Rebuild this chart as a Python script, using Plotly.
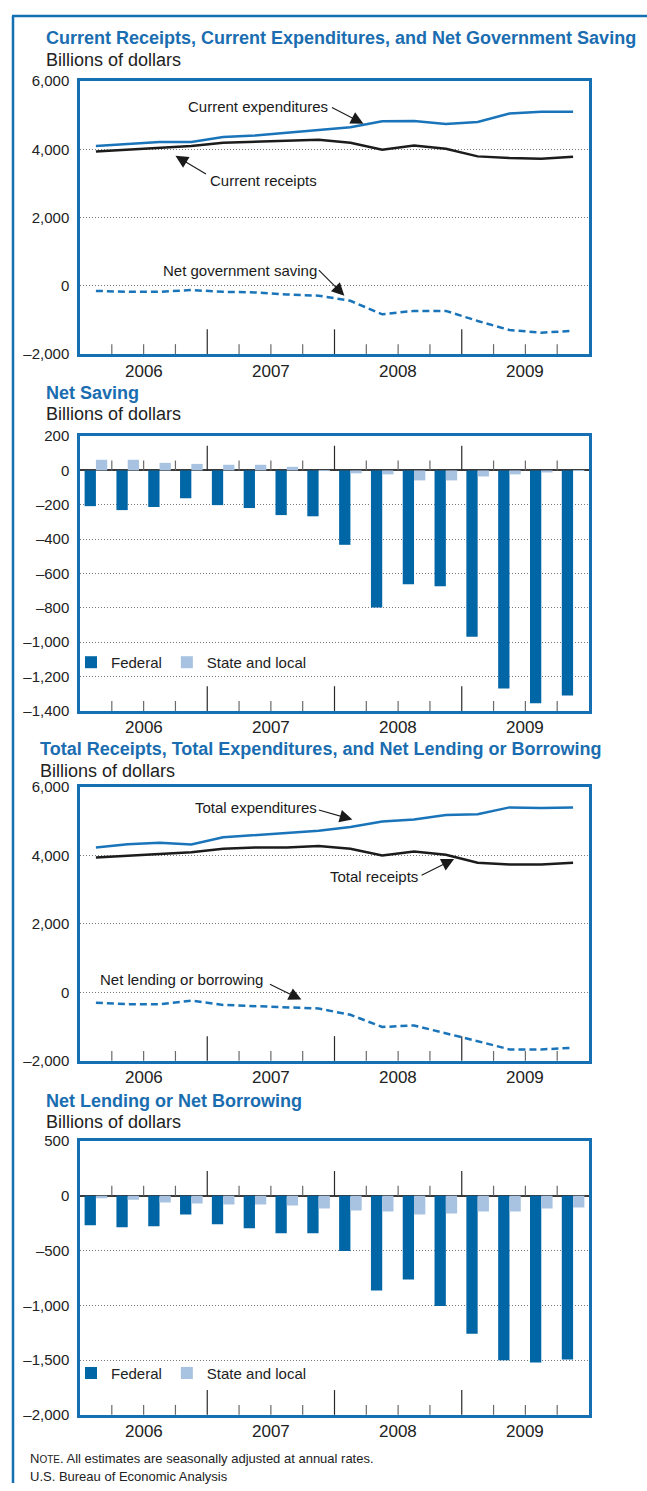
import plotly.graph_objects as go

# ---- data (billions of dollars, seasonally adjusted annual rates) ----
quarters = ["2006Q1", "2006Q2", "2006Q3", "2006Q4",
            "2007Q1", "2007Q2", "2007Q3", "2007Q4",
            "2008Q1", "2008Q2", "2008Q3", "2008Q4",
            "2009Q1", "2009Q2", "2009Q3", "2009Q4"]
years = ["2006", "2007", "2008", "2009"]

cur_expenditures = [4100, 4165, 4215, 4215, 4360, 4410, 4490, 4550,
                    4650, 4825, 4830, 4745, 4805, 5050, 5100, 5100]
cur_receipts = [3940, 4000, 4050, 4100, 4195, 4225, 4245, 4285,
                4195, 3990, 4110, 4020, 3795, 3745, 3725, 3785]
net_gov_saving = [-150, -175, -175, -125, -175, -195, -255, -290,
                  -440, -835, -735, -735, -1030, -1295, -1375, -1320]

saving_federal = [-208, -231, -213, -162, -202, -219, -260, -267,
                  -433, -798, -663, -675, -969, -1269, -1356, -1310]
saving_state_local = [62, 62, 44, 38, 33, 33, 21, -3,
                      -17, -23, -58, -58, -35, -23, -12, -3]

tot_expenditures = [4230, 4325, 4375, 4320, 4530, 4590, 4655, 4725,
                    4830, 4995, 5050, 5185, 5205, 5405, 5390, 5400]
tot_receipts = [3940, 3990, 4040, 4095, 4195, 4230, 4230, 4280,
                4195, 4000, 4115, 4020, 3790, 3740, 3740, 3790]
net_lending = [-300, -345, -345, -240, -365, -395, -445, -470,
               -655, -1010, -965, -1185, -1425, -1665, -1665, -1620]

lending_federal = [-270, -288, -279, -171, -261, -297, -342, -342,
                   -504, -865, -766, -1006, -1261, -1502, -1523, -1495]
lending_state_local = [-24, -36, -63, -72, -81, -81, -90, -117,
                       -135, -144, -171, -162, -144, -144, -117, -108]

# ---- styling ----
W, H = 647, 1491
FONT = "Liberation Sans, Arial, Helvetica, sans-serif"
FRAME = "#1470b3"
TITLE = "#1a6db0"
LINE_BLUE = "#1a74b9"
FED = "#0066a6"
STATE = "#a7c3e1"

def px(x):
    return x / W

def py(y):
    return 1 - y / H

idx = list(range(len(quarters)))
boxes = [(73, 349), (432, 710), (787, 1064), (1145, 1422)]
yranges = [(-2000, 6000), (-1400, 200), (-2000, 6000), (-2000, 500)]
yticks = [[-2000, 0, 2000, 4000, 6000],
          list(range(-1400, 201, 200)),
          [-2000, 0, 2000, 4000, 6000],
          [-2000, -1500, -1000, -500, 0, 500]]

def fmt(v):
    s = f"{abs(v):,}"
    return ("\u2013" + s) if v < 0 else s

fig = go.Figure()

# panel 1: lines
fig.add_trace(go.Scatter(x=idx, y=cur_expenditures, mode="lines", line=dict(color=LINE_BLUE, width=2.5),
                         xaxis="x", yaxis="y", showlegend=False))
fig.add_trace(go.Scatter(x=idx, y=cur_receipts, mode="lines", line=dict(color="#1c1c1c", width=2.5),
                         xaxis="x", yaxis="y", showlegend=False))
fig.add_trace(go.Scatter(x=idx, y=net_gov_saving, mode="lines", line=dict(color=LINE_BLUE, width=2.5, dash="7px,4px"),
                         xaxis="x", yaxis="y", showlegend=False))

# panel 2: bars
fig.add_trace(go.Bar(x=idx, y=saving_federal, name="Federal", marker_color=FED, marker_line_width=0,
                     xaxis="x2", yaxis="y2", legend="legend"))
fig.add_trace(go.Bar(x=idx, y=saving_state_local, name="State and local", marker_color=STATE, marker_line_width=0,
                     xaxis="x2", yaxis="y2", legend="legend"))

# panel 3: lines
fig.add_trace(go.Scatter(x=idx, y=tot_expenditures, mode="lines", line=dict(color=LINE_BLUE, width=2.5),
                         xaxis="x3", yaxis="y3", showlegend=False))
fig.add_trace(go.Scatter(x=idx, y=tot_receipts, mode="lines", line=dict(color="#1c1c1c", width=2.5),
                         xaxis="x3", yaxis="y3", showlegend=False))
fig.add_trace(go.Scatter(x=idx, y=net_lending, mode="lines", line=dict(color=LINE_BLUE, width=2.5, dash="7px,4px"),
                         xaxis="x3", yaxis="y3", showlegend=False))

# panel 4: bars
fig.add_trace(go.Bar(x=idx, y=lending_federal, name="Federal", marker_color=FED, marker_line_width=0,
                     xaxis="x4", yaxis="y4", legend="legend2"))
fig.add_trace(go.Bar(x=idx, y=lending_state_local, name="State and local", marker_color=STATE, marker_line_width=0,
                     xaxis="x4", yaxis="y4", legend="legend2"))

layout = dict(
    width=W, height=H, margin=dict(l=0, r=0, t=0, b=0),
    paper_bgcolor="white", plot_bgcolor="white",
    font=dict(family=FONT, size=15, color="#222"),
    barmode="group", bargap=0.29, bargroupgap=0,
)
shapes = []
annotations = []
for i, (top, bot) in enumerate(boxes):
    n = "" if i == 0 else str(i + 1)
    is_bar = i in (1, 3)
    layout["xaxis" + n] = dict(domain=[px(80), px(589)], range=[-0.5, len(idx) - 0.5],
                               anchor="y" + n, showline=True, mirror=True, linecolor=FRAME, linewidth=2.5,
                               ticks="", showticklabels=False, showgrid=False, zeroline=False)
    lo, hi = yranges[i]
    layout["yaxis" + n] = dict(domain=[py(bot), py(top)], range=[lo, hi], anchor="x" + n,
                               tickvals=yticks[i], ticktext=[fmt(v) for v in yticks[i]],
                               showline=True, mirror=True, linecolor=FRAME, linewidth=2.5,
                               ticks="", ticklabelstandoff=5, tickfont=dict(size=15),
                               showgrid=True, gridcolor="#7a7a7a", griddash="1px,2px", gridwidth=1,
                               zeroline=is_bar, zerolinecolor="#3a3a3a", zerolinewidth=1.5)
    box_h = bot - top
    units_per_px = (hi - lo) / box_h
    # quarter / year tick marks
    for b in range(1, len(idx)):
        major = b % 4 == 0
        ln = 25 if major else 10
        col = "#2a2a2a" if major else "#6a6a6a"
        shapes.append(dict(type="line", xref="x" + n, yref="y" + n + " domain",
                           x0=b - 0.5, x1=b - 0.5, y0=0, y1=ln / box_h,
                           line=dict(color=col, width=1.2)))
        if is_bar:
            shapes.append(dict(type="line", xref="x" + n, yref="y" + n,
                               x0=b - 0.5, x1=b - 0.5, y0=0, y1=ln * units_per_px,
                               line=dict(color=col, width=1.2)))
    for k, yr in enumerate(years):
        annotations.append(dict(text=yr, xref="x" + n, yref="y" + n + " domain", x=4 * k + 1.5, y=0,
                                yshift=-17, showarrow=False, yanchor="middle", font=dict(size=17)))

# titles
titles = [("Current Receipts, Current Expenditures, and Net Government Saving", 44, 29, 52),
          ("Net Saving", 44, 388, 410),
          ("Total Receipts, Total Expenditures, and Net Lending or Borrowing", 38, 749, 771),
          ("Net Lending or Net Borrowing", 44, 1105, 1126)]
for t, x, yt, ys in titles:
    annotations.append(dict(text="<b>" + t + "</b>", xref="paper", yref="paper", x=px(x), y=py(yt),
                            xanchor="left", yanchor="middle", showarrow=False,
                            font=dict(size=18, color=TITLE)))
    annotations.append(dict(text="Billions of dollars", xref="paper", yref="paper", x=px(x), y=py(ys),
                            xanchor="left", yanchor="middle", showarrow=False,
                            font=dict(size=18, color="#222")))

# series labels with arrows
labels = [
    ("Current expenditures", "x", "y", 186, 99, 8.41, 4754, -33, -17),
    ("Current receipts", "x", "y", 208, 173, 2.5, 3810, 32, 19),
    ("Net government saving", "x", "y", 161, 265, 7.81, -290, -27, -27),
    ("Total expenditures", "x3", "y3", 193, 808, 8.06, 5050, -35, -10),
    ("Total receipts", "x3", "y3", 328, 877, 11.26, 3894, -34, 17),
    ("Net lending or borrowing", "x3", "y3", 98, 982, 6.46, -210, -33, -16),
]
for t, xr, yr, lx, ly, ax_, ay_, dx, dy in labels:
    annotations.append(dict(text=t, xref="paper", yref="paper", x=px(lx), y=py(ly),
                            xanchor="left", yanchor="middle", showarrow=False,
                            font=dict(size=15, color="#1a1a1a")))
    annotations.append(dict(text="", xref=xr, yref=yr, x=ax_, y=ay_, ax=dx, ay=dy,
                            showarrow=True, arrowhead=2, arrowsize=2.3, arrowwidth=1.1,
                            arrowcolor="#1a1a1a"))

# note
annotations.append(dict(text="N<span style='font-size:10px'>OTE</span>. All estimates are seasonally adjusted at annual rates.",
                        xref="paper", yref="paper", x=px(28), y=py(1466), xanchor="left", yanchor="middle",
                        showarrow=False, font=dict(size=13, color="#222")))
annotations.append(dict(text="U.S. Bureau of Economic Analysis",
                        xref="paper", yref="paper", x=px(28), y=py(1484), xanchor="left", yanchor="middle",
                        showarrow=False, font=dict(size=13, color="#222")))

# outer frame (left and top rules)
shapes.append(dict(type="line", xref="paper", yref="paper", x0=px(13), x1=px(13), y0=0, y1=py(7),
                   line=dict(color=FRAME, width=2.5)))
shapes.append(dict(type="line", xref="paper", yref="paper", x0=px(12), x1=1, y0=py(7), y1=py(7),
                   line=dict(color=FRAME, width=2.5)))

layout["shapes"] = shapes
layout["annotations"] = annotations
layout["legend"] = dict(orientation="h", x=px(71), y=py(661), xanchor="left", yanchor="middle",
                        bgcolor="rgba(0,0,0,0)", font=dict(size=15), traceorder="normal")
layout["legend2"] = dict(orientation="h", x=px(71), y=py(1380), xanchor="left", yanchor="middle",
                         bgcolor="rgba(0,0,0,0)", font=dict(size=15), traceorder="normal")
fig.update_layout(**layout)

fig.write_html("out.html", config={"displayModeBar": False},
               post_script="document.body.style.margin='0';"
                           "var d=document.getElementById('{plot_id}');"
                           "d.style.position='fixed';d.style.top='0';d.style.left='0';")
